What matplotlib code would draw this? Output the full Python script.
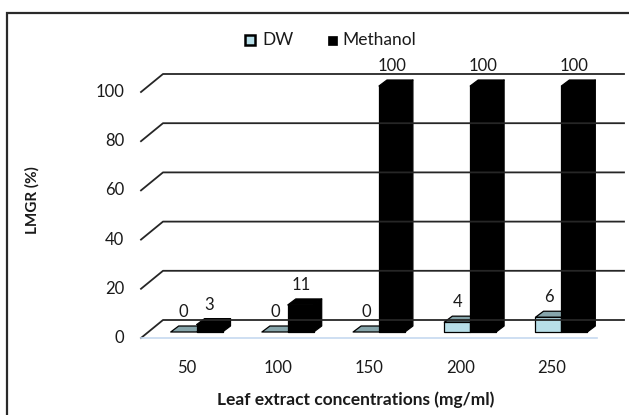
import matplotlib.pyplot as plt
import numpy as np
from matplotlib.patches import Polygon, Rectangle
from matplotlib.transforms import IdentityTransform

plt.rcParams['font.family'] = ['Lato', 'DejaVu Sans']

concentrations = ['50', '100', '150', '200', '250']
dw = [0, 0, 0, 4, 6]
methanol = [3, 11, 100, 100, 100]
yticks = [0, 20, 40, 60, 80, 100]

# pseudo-3d geometry in pixels (dpi=100)
WALL = np.array([22.0, 18.0])       # depth of back wall
BAR_FRONT = np.array([10.0, 6.0])   # where the bar front face sits
BAR_DEPTH = np.array([8.0, 6.0])    # depth of each bar
W = 0.284                           # bar width in category units

DW_FRONT = '#b7dee8'
DW_TOP = '#86a5ab'
TXT = '#1a1a1a'
FS = 12

fig = plt.figure(figsize=(6.29, 4.15), dpi=100)
ax = fig.add_axes([141 / 629, 77 / 415, 456 / 629, 246 / 415])
ax.set_xlim(-0.5, 4.5)
ax.set_ylim(0, 100)
ax.axis('off')

# outer chart border (only left/top visible)
fig.patches.append(Rectangle((7 / 629, -0.1), 1.2, (415 - 13) / 415 + 0.1,
                             transform=fig.transFigure, fill=False,
                             edgecolor='#2a2a2a', lw=1.6))

ident = IdentityTransform()


def pt(x, v, off=(0, 0)):
    p = ax.transData.transform((x, v))
    return p + np.asarray(off)


# back wall gridlines and left diagonals
for v in yticks:
    a = pt(-0.5, v)
    b = pt(-0.5, v, WALL)
    c = pt(4.5, v, WALL) + np.array([5, 0])
    ax.add_line(plt.Line2D([a[0], b[0], c[0]], [a[1], b[1], c[1]],
                           transform=ident, color='#262626', lw=1.3, clip_on=False))
    ax.annotate(str(v), xy=(-0.5, v), xytext=(-17, 0), textcoords='offset pixels',
                ha='right', va='center', fontsize=FS, color=TXT)

# floor front edge
f0, f1 = pt(-0.5, 0), pt(4.5, 0)
ax.add_line(plt.Line2D([f0[0], f1[0]], [f0[1], f1[1]], transform=ident,
                       color='#c6d9f0', lw=1.2, clip_on=False))


def bar3d(x0, x1, v, front, top, side):
    fbl = pt(x0, 0, BAR_FRONT)
    fbr = pt(x1, 0, BAR_FRONT)
    ftl = pt(x0, v, BAR_FRONT)
    ftr = pt(x1, v, BAR_FRONT)
    d = BAR_DEPTH
    kw = dict(transform=ident, edgecolor='black', lw=0.9, joinstyle='round', clip_on=False)
    ax.add_patch(Polygon([fbr, fbr + d, ftr + d, ftr], facecolor=side, **kw))
    ax.add_patch(Polygon([ftl, ftr, ftr + d, ftl + d], facecolor=top, **kw))
    if v > 0:
        ax.add_patch(Polygon([fbl, fbr, ftr, ftl], facecolor=front, **kw))
    return (ftl[0] + ftr[0]) / 2, ftl[1] + d[1]


for i in range(len(concentrations)):
    for x0, val, cols in [(i - W, dw[i], (DW_FRONT, DW_TOP, DW_TOP)),
                          (i, methanol[i], ('black', 'black', 'black'))]:
        cx, ty = bar3d(x0, x0 + W, val, *cols)
        ax.text(cx, ty + 6, str(val), transform=ident, ha='center', va='bottom',
                fontsize=FS, color=TXT)
    ax.annotate(concentrations[i], xy=(i, 0), xytext=(0, -30), textcoords='offset pixels',
                ha='center', va='center', fontsize=FS, color=TXT)

# legend
fig.patches.append(Rectangle((245 / 629, 1 - 45 / 415), 10 / 629, 10 / 415,
                             transform=fig.transFigure, facecolor=DW_FRONT,
                             edgecolor='black', lw=1.8))
fig.text(262 / 629, 1 - 40 / 415, 'DW', ha='left', va='center', fontsize=12.5, color=TXT)
fig.patches.append(Rectangle((328 / 629, 1 - 45 / 415), 9 / 629, 9 / 415,
                             transform=fig.transFigure, facecolor='black',
                             edgecolor='black', lw=0.5))
fig.text(342 / 629, 1 - 40 / 415, 'Methanol', ha='left', va='center', fontsize=12.5, color=TXT)

fig.text(32 / 629, 1 - 200 / 415, 'LMGR (%)', rotation=90, ha='center', va='center',
         fontsize=11, fontweight='bold', color=TXT)
fig.text(356 / 629, 1 - 400 / 415, 'Leaf extract concentrations (mg/ml)', ha='center',
         va='center', fontsize=12.5, fontweight='bold', color=TXT)

fig.savefig('out.png', dpi=100)
